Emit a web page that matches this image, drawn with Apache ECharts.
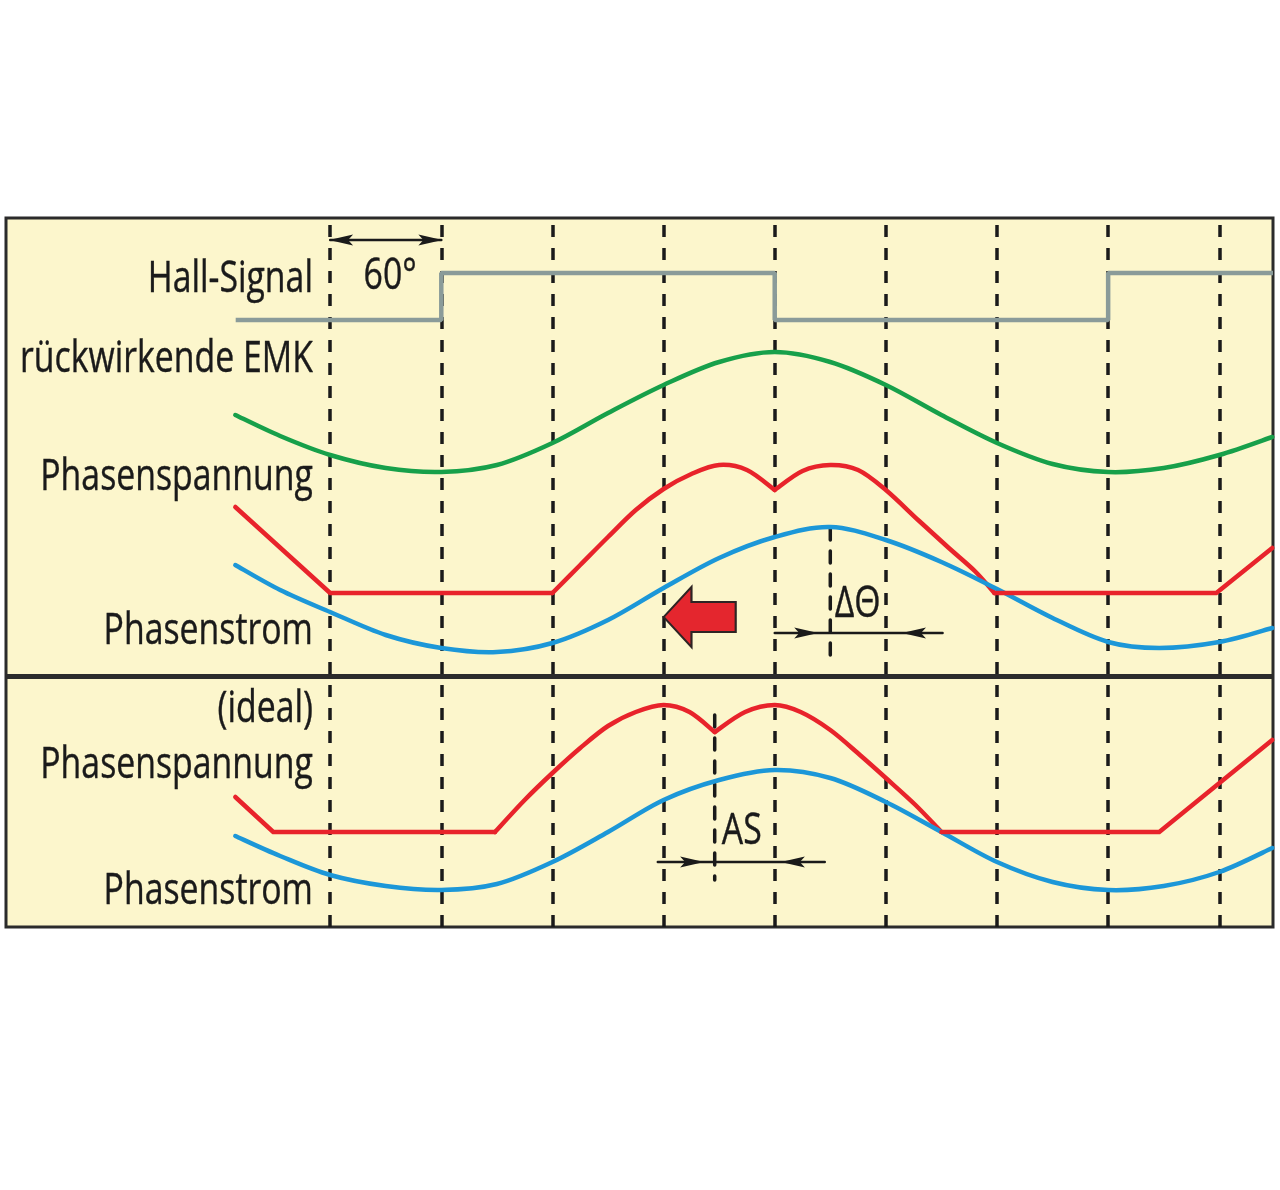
<!DOCTYPE html>
<html><head><meta charset="utf-8">
<script src="https://cdn.jsdelivr.net/npm/echarts@6/dist/echarts.min.js"></script>
<style>html,body{margin:0;padding:0;background:#fff}#c{width:1280px;height:1190px}</style>
</head><body><div id="c"></div>
<script>
// x in electrical degrees, y in arbitrary vertical units (0 = bottom of frame)
const dashedAt = [0, 60, 120, 180, 240, 300, 360, 420, 480];
const hallSignal = [[-51, 607], [60, 607], [60, 654], [240, 654], [240, 607], [420, 607], [420, 654], [509, 654]];
const emk = [[-51.2, 512], [-27, 491], [0, 472], [30, 459], [60, 455], [90, 462], [120, 484], [150, 514], [180, 542], [210, 565], [240, 575], [270, 565], [300, 542], [330, 512], [360, 484], [390, 463], [420, 455], [450, 459], [480, 472], [508.6, 490]];
const voltA = [[-51.2, 420], [0, 334], [120, 334]];
const voltB = [[120, 334], [135, 362], [150, 390], [165, 417], [180, 438], [195, 453], [210, 462], [225, 457], [240, 437]];
const voltC = [[240, 437], [255, 456], [270, 462], [285, 457], [300, 437], [318, 406], [334, 379], [348, 356], [358.6, 334]];
const voltD = [[358.6, 334], [478.4, 334], [508.6, 379]];
const current = [[-51.2, 362], [-27, 337], [0, 315], [30, 292], [60, 279], [90, 275], [120, 284], [150, 307], [180, 339], [210, 369], [240, 390], [270, 400], [300, 387], [330, 365], [360, 338], [390, 309], [420, 285], [447.6, 279], [480, 285], [508.6, 299]];
const idealVoltA = [[-51.2, 130], [-30.7, 95], [89, 95]];
const idealVoltB = [[89, 95], [105, 127], [120, 154], [135, 179], [150, 201], [165, 215], [180, 222], [194, 215], [207.6, 195]];
const idealVoltC = [[207.6, 195], [224, 215], [240, 222], [254, 215], [270, 197], [286, 172], [300, 149], [316, 122], [330, 95]];
const idealVoltD = [[330, 95], [447.6, 95], [508.6, 187]];
const idealCurrent = [[-51.2, 91], [-27, 71], [0, 52], [30, 41], [60, 37], [90, 43], [120, 65], [150, 95], [180, 127], [210, 147], [240, 157], [270, 149], [300, 125], [330, 95], [360, 65], [390, 45], [420, 37], [450, 41], [480, 55], [508.6, 79]];
const shortDashTop = [[270, 399], [270, 267]];
const shortDashBottom = [[207.6, 212], [207.6, 47]];
const dim60 = [[0, 687], [60, 687]];
const dimDelta = [[240, 294], [330.6, 294]];
const dimAS = [[176.9, 65], [267, 65]];
const arrowHeads = [[5.9, 687, 180], [54.1, 687, 0], [257, 294, 0], [315.2, 294, 180], [195.4, 65, 0], [249.8, 65, 180]];
const shiftArrow = [[199.5, 310]];
const dividerAt = 251;
const sideLabels = [['Hall-Signal', -9.3, 647], ['rückwirkende EMK', -9.3, 567], ['Phasenspannung', -9.3, 449], ['Phasenstrom', -9.3, 295], ['(ideal)', -9.3, 217], ['Phasenspannung', -9.3, 161], ['Phasenstrom', -9.3, 35]];
const innerLabels = [['60°', 32.4, 650], ['ΔΘ', 284.8, 322], ['AS', 222.2, 95]];

const FONT_FAMILY = '"Open Sans", "Noto Sans", sans-serif';
const FONT = '43px ' + FONT_FAMILY;
const RED = '#e8232b', BLUE = '#1c97d8', GREEN = '#17a04a', GRAY = '#8a9b99', INK = '#1a1a1a';

// smooth curve through the data points (Catmull-Rom), drawn with the chart's own coordinate mapping
function spline(data, color) {
  return {
    type: 'custom', coordinateSystem: 'cartesian2d', z: 5, silent: true,
    data: data,
    encode: { x: 0, y: 1 },
    renderItem: function (params, api) {
      if (params.dataIndex !== 0) return null;
      const p = data.map(d => api.coord(d));
      let d = 'M' + p[0][0] + ' ' + p[0][1];
      for (let i = 0; i < p.length - 1; i++) {
        const p0 = p[Math.max(i - 1, 0)], p1 = p[i], p2 = p[i + 1], p3 = p[Math.min(i + 2, p.length - 1)];
        const c1 = [p1[0] + (p2[0] - p0[0]) / 6, p1[1] + (p2[1] - p0[1]) / 6];
        const c2 = [p2[0] - (p3[0] - p1[0]) / 6, p2[1] - (p3[1] - p1[1]) / 6];
        d += ' C' + c1[0] + ' ' + c1[1] + ' ' + c2[0] + ' ' + c2[1] + ' ' + p2[0] + ' ' + p2[1];
      }
      return { type: 'path', shape: { pathData: d },
        style: { stroke: color, lineWidth: 4.5, fill: null, lineCap: 'round', lineJoin: 'round' } };
    }
  };
}
function straight(data, color, width, type, z) {
  return { type: 'line', data: data, symbol: 'none', z: z || 5, silent: true,
    lineStyle: { color: color, width: width, type: type || 'solid', cap: 'round', join: 'round' } };
}

const chart = echarts.init(document.getElementById('c'), null, { renderer: 'canvas' });
chart.setOption({
  animation: false,
  backgroundColor: '#ffffff',
  grid: { left: 6, right: 7, top: 218, bottom: 263, show: true, backgroundColor: '#fcf6cc', borderColor: '#2b2b2b', borderWidth: 3, z: 0 },
  xAxis: { type: 'value', min: -175, max: 509, show: false },
  yAxis: { type: 'value', min: 0, max: 709, show: false },
  series: [
    { type: 'line', data: [], z: 2, markLine: { silent: true, symbol: 'none', label: { show: false },
        lineStyle: { color: INK, width: 3.5, type: [12, 11] },
        data: dashedAt.map(v => ({ xAxis: v })) } },
    { type: 'line', data: [], z: 6, markLine: { silent: true, symbol: 'none', label: { show: false },
        lineStyle: { color: '#2b2b2b', width: 5, type: 'solid' },
        data: [{ yAxis: dividerAt }] } },
    straight(shortDashTop, INK, 3.5, [12, 11], 3),
    straight(shortDashBottom, INK, 3.5, [12, 11], 3),
    { type: 'line', data: hallSignal, symbol: 'none', z: 5, silent: true, lineStyle: { color: GRAY, width: 4.5 } },
    spline(emk, GREEN),
    straight(voltA, RED, 4.5), spline(voltB, RED), spline(voltC, RED), straight(voltD, RED, 4.5),
    spline(current, BLUE),
    straight(idealVoltA, RED, 4.5), spline(idealVoltB, RED), spline(idealVoltC, RED), straight(idealVoltD, RED, 4.5),
    spline(idealCurrent, BLUE),
    straight(dim60, INK, 2.5), straight(dimDelta, INK, 2.5), straight(dimAS, INK, 2.5),
    { type: 'scatter', z: 7, silent: true, symbol: 'path://M0,0 L24,5 L0,10 L5,5 Z', symbolSize: [24, 11],
      itemStyle: { color: INK, opacity: 1 },
      data: arrowHeads.map(a => ({ value: [a[0], a[1]], symbolRotate: a[2] })) },
    { type: 'scatter', z: 7, silent: true, symbol: 'path://M0,30 L27,0 L27,15 L70,15 L70,45 L27,45 L27,60 Z', symbolSize: [72, 60],
      itemStyle: { color: '#e4262e', borderColor: '#2e2424', borderWidth: 2, opacity: 1 },
      data: shiftArrow }
  ]
});

// text labels, positioned from data coordinates through the chart's scales, condensed horizontally
const ctx = document.createElement('canvas').getContext('2d');
ctx.font = FONT;
const condense = 293 / ctx.measureText('rückwirkende EMK').width;
const texts = [];
sideLabels.forEach(l => {
  const p = chart.convertToPixel({ gridIndex: 0 }, [l[1], l[2]]);
  texts.push({ type: 'text', x: p[0], y: p[1], scaleX: condense, z: 20, silent: true,
    style: { text: l[0], font: FONT, fill: INK, stroke: INK, lineWidth: 0.4, align: 'right', verticalAlign: 'middle' } });
});
innerLabels.forEach(l => {
  const p = chart.convertToPixel({ gridIndex: 0 }, [l[1], l[2]]);
  texts.push({ type: 'text', x: p[0], y: p[1], scaleX: condense, z: 20, silent: true,
    style: { text: l[0], font: FONT, fill: INK, stroke: INK, lineWidth: 0.4, align: 'center', verticalAlign: 'middle' } });
});
chart.setOption({ graphic: texts });
</script></body></html>
